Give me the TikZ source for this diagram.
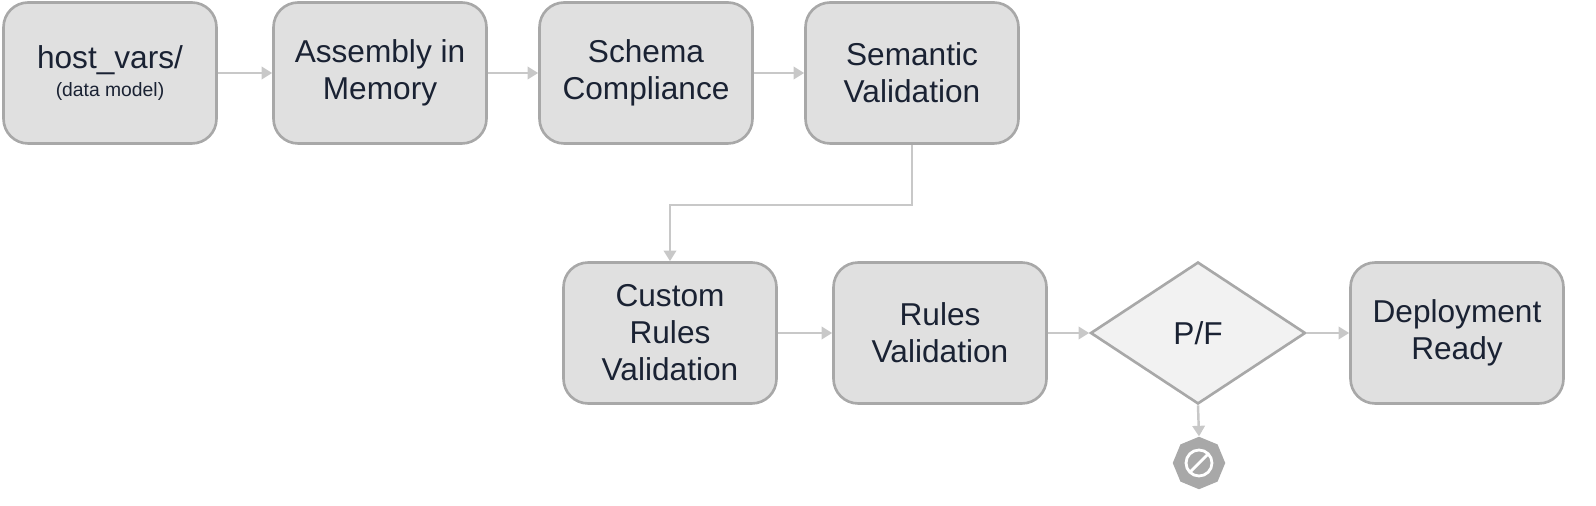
\documentclass[tikz,border=0pt]{standalone}
\usepackage{fontspec}
\setmainfont{Liberation Sans}
\usetikzlibrary{shapes.geometric, arrows.meta, calc}
\definecolor{boxfill}{HTML}{E0E0E0}
\definecolor{boxline}{HTML}{A8A8A8}
\definecolor{flowline}{HTML}{C8C8C8}
\definecolor{ink}{HTML}{1A2233}
\tikzset{
  stage/.style={draw=boxline, line width=1.5pt, fill=boxfill, rounded corners=14pt,
    minimum width=4.26cm, minimum height=2.82cm, align=center, text=ink,
    font=\fontsize{18}{21}\selectfont},
  flow/.style={draw=flowline, line width=1.4pt, -{Triangle[length=6pt, width=7pt]}}
}
\begin{document}
\begin{tikzpicture}[x=0.02cm, y=-0.02cm]
    \useasboundingbox (0,0) rectangle (1596,506);

    % top row
    \node[stage] (hostvars) at (110,73) {host\_vars/\\[-5pt]{\fontsize{11}{13}\selectfont (data model)}};
    \node[stage] (assembly) at (380,73) {Assembly in\\Memory};
    \node[stage] (schema) at (646,73) {Schema\\Compliance};
    \node[stage] (semantic) at (912,73) {Semantic\\Validation};

    % bottom row
    \node[stage] (custom) at (670,333) {Custom\\Rules\\Validation};
    \node[stage] (rules) at (940,333) {Rules\\Validation};
    \node[diamond, draw=boxline, line width=1.5pt, fill=gray!10, aspect=1.5,
      minimum width=4.3cm, minimum height=2.84cm, inner sep=0pt, text=ink,
      font=\fontsize{18}{21}\selectfont] (passfail) at (1198,333) {P/F};
    \node[stage] (deploy) at (1457,333) {Deployment\\Ready};

    % stop sign
    \node[regular polygon, regular polygon sides=8, fill=boxline, minimum size=1.05cm,
      inner sep=0pt, shape border rotate=22.5] (stop) at (1199,463) {};
    \draw[white, line width=1.6pt] (stop.center) circle (0.26cm);
    \draw[white, line width=1.6pt] ($(stop.center)+(-9,9)$) -- ($(stop.center)+(9,-9)$);

    % connectors
    \draw[flow] (hostvars) -- (assembly);
    \draw[flow] (assembly) -- (schema);
    \draw[flow] (schema) -- (semantic);
    \draw[flow] (semantic.south) -- ++(0,60) -| (custom.north);
    \draw[flow] (custom) -- (rules);
    \draw[flow] (rules) -- (passfail);
    \draw[flow] (passfail) -- (deploy);
    \draw[flow] (passfail.south) -- (stop.north);
\end{tikzpicture}
\end{document}
